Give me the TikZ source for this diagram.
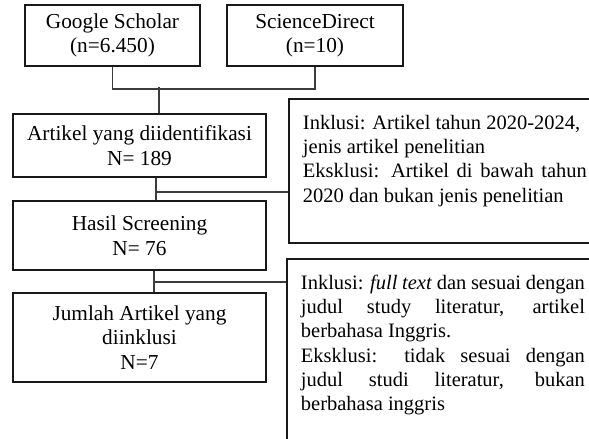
\documentclass[tikz,border=0pt]{standalone}
\usepackage{fontspec}
\setmainfont{Liberation Serif}
\usetikzlibrary{positioning}
\definecolor{linegray}{HTML}{3C3C3C}

\tikzset{
  srcbox/.style={draw=black!90, line width=1.9pt, minimum width=175pt, minimum height=61pt, align=center, inner sep=0pt},
  stagebox/.style={draw=black!90, line width=1.9pt, minimum width=253pt, align=center, inner sep=0pt},
  notebox/.style={draw=black!90, line width=1.9pt, anchor=north west, inner xsep=14pt, inner ysep=0pt, font=\fontsize{20.5}{24.3}\selectfont},
  joint/.style={draw=linegray, line width=1.5pt}
}

\newcommand{\notetext}[2]{\parbox[t][#1][t]{284pt}{\sloppy\hyphenpenalty=10000\vspace*{16pt}#2}}
\newcommand{\srclabel}[1]{\raisebox{-3pt}{\begin{tabular}{@{}c@{}}#1\end{tabular}}}

\begin{document}
\begin{tikzpicture}[x=1pt,y=-1pt,font=\fontsize{21.3}{24.5}\selectfont]
\useasboundingbox (0,0) rectangle (589,439);

% sources
\node[srcbox] (scholar) at (112.5,35.5) {\srclabel{Google Scholar\\(n=6.450)}};
\node[srcbox, minimum width=176pt] (direct) at (315,35.5) {\srclabel{ScienceDirect\\(n=10)}};

% stages
\node[stagebox, minimum height=63pt] (ident) at (139.5,145.5) {Artikel yang diidentifikasi\\N= 189};
\node[stagebox, minimum height=69pt] (screen) at (139.5,235.5) {Hasil Screening\\N= 76};
\node[stagebox, minimum height=89pt] (incl) at (139.5,337.5) {Jumlah Artikel yang\\diinklusi\\N=7};

% criteria
\node[notebox] (crit1) at (288,98) {\notetext{144pt}{Inklusi: Artikel tahun 2020-2024,\par
jenis artikel penelitian\par
Eksklusi: Artikel di bawah tahun\linebreak 2020 dan bukan jenis penelitian}};
\node[notebox] (crit2) at (286,258) {\notetext{200pt}{Inklusi: \textit{full text} dan sesuai dengan\linebreak
judul study literatur, artikel\linebreak berbahasa Inggris.\par
Eksklusi: tidak sesuai dengan\linebreak judul studi literatur, bukan\linebreak berbahasa inggris}};

% connectors
\draw[joint] (scholar.south) -- ++(0,22) -| (direct.south);
\draw[joint] ([xshift=19.5pt]ident.north) -- ++(0,-26);
\coordinate (split1) at ([xshift=16.5pt,yshift=-14pt]ident.south);
\draw[joint] ([xshift=16.5pt]ident.south) -- ([xshift=16.5pt]screen.north);
\draw[joint] (split1) -- (split1 -| crit1.west);
\coordinate (split2) at ([xshift=14.5pt,yshift=-11pt]screen.south);
\draw[joint] ([xshift=14.5pt]screen.south) -- ([xshift=14.5pt]incl.north);
\draw[joint] (split2) -- (split2 -| crit2.west);
\end{tikzpicture}
\end{document}
